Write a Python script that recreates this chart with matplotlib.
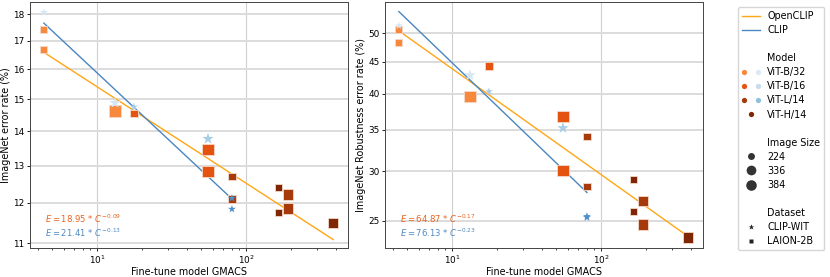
import numpy as np
import matplotlib
matplotlib.use('Agg')
import matplotlib.pyplot as plt
from matplotlib.lines import Line2D
from matplotlib.legend_handler import HandlerTuple
from matplotlib.ticker import NullLocator, FixedLocator, FixedFormatter

# OpenCLIP (LAION-2B) points
oc_model = ['B/32', 'B/32', 'B/32', 'B/16', 'B/16', 'B/16', 'L/14', 'L/14',
            'H/14', 'H/14', 'L/14', 'L/14', 'H/14']
oc_size = [224, 224, 384, 224, 384, 384, 224, 224, 224, 224, 336, 336, 336]
oc_gmacs = [4.4, 4.4, 13.2, 17.7, 55.6, 55.6, 80.5, 80.5, 166, 166, 191, 191, 385]
oc_in1k = [17.43, 16.69, 14.62, 14.53, 13.45, 12.83, 12.69, 12.10,
           12.40, 11.75, 12.21, 11.85, 11.49]
oc_robust = [50.7, 48.3, 39.6, 44.3, 36.7, 30.1, 34.1, 28.4,
             29.1, 25.85, 26.9, 24.66, 23.5]

# CLIP (CLIP-WIT) points
cl_model = ['B/32', 'B/32', 'B/16', 'B/16', 'L/14', 'L/14']
cl_size = [224, 384, 224, 384, 224, 224]
cl_gmacs = [4.4, 13.2, 17.7, 55.6, 80.5, 80.5]
cl_in1k = [18.07, 14.88, 14.75, 13.77, 12.12, 11.84]
cl_robust = [51.4, 42.8, 40.3, 35.2, 25.4, 25.3]

# fitted power laws E = a * C^b
fit_in1k = {'OpenCLIP': (18.95, -0.09), 'CLIP': (21.41, -0.13)}
fit_robust = {'OpenCLIP': (64.87, -0.17), 'CLIP': (76.13, -0.23)}

yticks_in1k = [11, 12, 13, 14, 15, 16, 17, 18]
yticks_robust = [25, 30, 35, 40, 45, 50]

# colours
oc_colors = {'B/32': '#f7883c', 'B/16': '#e4530f', 'L/14': '#a63a0a', 'H/14': '#7f2704'}
cl_colors = {'B/32': '#d6e6f4', 'B/16': '#a9cde6', 'L/14': '#4f90c8'}
cl_leg_colors = {'B/32': '#dbe9f6', 'B/16': '#c6dbef', 'L/14': '#8ec1df'}
line_oc = '#ffa616'
line_cl = '#4a86bf'
txt_oc = '#e8641e'
txt_cl = '#4f8ac2'

sq_sizes = {224: 27, 336: 58, 384: 66}
st_sizes = {224: 36, 336: 66, 384: 76}

fig = plt.figure(figsize=(8.3, 2.77), dpi=100)
ax1 = fig.add_axes([30/830, 29/277, 318/830, 246/277])
ax2 = fig.add_axes([385/830, 29/277, 318/830, 246/277])


def draw(ax, oc_y, cl_y, fits, yticks, ylim, ylabel):
    ax.set_xscale('log')
    ax.set_yscale('log')
    # fit lines
    for name, xs, col in [('OpenCLIP', oc_gmacs, line_oc), ('CLIP', cl_gmacs, line_cl)]:
        a, b = fits[name]
        xx = np.array([min(xs), max(xs)])
        ax.plot(xx, a * xx ** b, color=col, lw=1.0, zorder=2)
    ax.scatter(oc_gmacs, oc_y, marker='s',
               s=[sq_sizes[s] for s in oc_size],
               c=[oc_colors[m] for m in oc_model],
               edgecolors='#f4d9cc', linewidths=0.6, zorder=3)
    ax.scatter(cl_gmacs, cl_y, marker='*',
               s=[st_sizes[s] for s in cl_size],
               c=[cl_colors[m] for m in cl_model],
               edgecolors='none', zorder=4)
    a, b = fits['OpenCLIP']
    ax.text(0.047, 0.118, r'$E = %.2f$ * $C^{%.2f}$' % (a, b), transform=ax.transAxes,
            color=txt_oc, fontsize=6.1, va='center')
    a, b = fits['CLIP']
    ax.text(0.047, 0.061, r'$E = %.2f$ * $C^{%.2f}$' % (a, b), transform=ax.transAxes,
            color=txt_cl, fontsize=6.1, va='center')
    ax.set_xlim(3.55, 484)
    ax.set_ylim(*ylim)
    ax.yaxis.set_major_locator(FixedLocator(yticks))
    ax.yaxis.set_major_formatter(FixedFormatter([str(t) for t in yticks]))
    ax.yaxis.set_minor_locator(NullLocator())
    ax.grid(True, axis='y', color='#dcdcdc', lw=1.4, zorder=0)
    ax.grid(True, axis='x', which='major', color='#cfcfcf', lw=0.8, zorder=0)
    ax.set_axisbelow(True)
    ax.tick_params(labelsize=6.4, length=2.5, width=0.6, pad=1.5)
    ax.tick_params(which='minor', length=1.5, width=0.5)
    ax.set_xlabel('Fine-tune model GMACS', fontsize=6.9, labelpad=1)
    ax.set_ylabel(ylabel, fontsize=6.9, labelpad=1.5)
    for sp in ax.spines.values():
        sp.set_color('#444444')
        sp.set_linewidth(0.7)


draw(ax1, oc_in1k, cl_in1k, fit_in1k, yticks_in1k, (10.89, 18.48), 'ImageNet error rate (%)')
draw(ax2, oc_robust, cl_robust, fit_robust, yticks_robust, (22.6, 56.1),
     'ImageNet Robustness error rate (%)')

# legend
blank = Line2D([], [], linestyle='none', marker=None)
handles = [Line2D([], [], color=line_oc, lw=1.0),
           Line2D([], [], color=line_cl, lw=1.0),
           blank, blank]
labels = ['OpenCLIP', 'CLIP', '', 'Model']
model_names = ['B/32', 'B/16', 'L/14', 'H/14']
for m in model_names:
    h_oc = Line2D([], [], linestyle='none', marker='o', markersize=3.8,
                  color=oc_colors[m], markeredgecolor='none')
    if m in cl_leg_colors:
        h_cl = Line2D([], [], linestyle='none', marker='o', markersize=3.8,
                      color=cl_leg_colors[m], markeredgecolor='none')
        handles.append((h_oc, h_cl))
    else:
        handles.append(h_oc)
    labels.append('ViT-' + m)
handles += [blank, blank]
labels += ['', 'Image Size']
for s, ms in [(224, 5.0), (336, 7.0), (384, 7.6)]:
    handles.append(Line2D([], [], linestyle='none', marker='o', markersize=ms,
                          color='#333333', markeredgecolor='none'))
    labels.append(str(s))
handles += [blank, blank]
labels += ['', 'Dataset']
handles.append(Line2D([], [], linestyle='none', marker='*', markersize=4.0, color='#222222',
                      markeredgecolor='none'))
labels.append('CLIP-WIT')
handles.append(Line2D([], [], linestyle='none', marker='s', markersize=3.0, color='#222222',
                      markeredgecolor='none'))
labels.append('LAION-2B')

fig.legend(handles, labels, loc='upper left', bbox_to_anchor=(738/830, 1 - 7/277),
           borderaxespad=0, fontsize=6.9, labelspacing=0.425, handlelength=1.9,
           handletextpad=0.75, borderpad=0.42, frameon=True,
           handler_map={tuple: HandlerTuple(ndivide=None, pad=1.0)})

fig.savefig('out.png', dpi=100)
